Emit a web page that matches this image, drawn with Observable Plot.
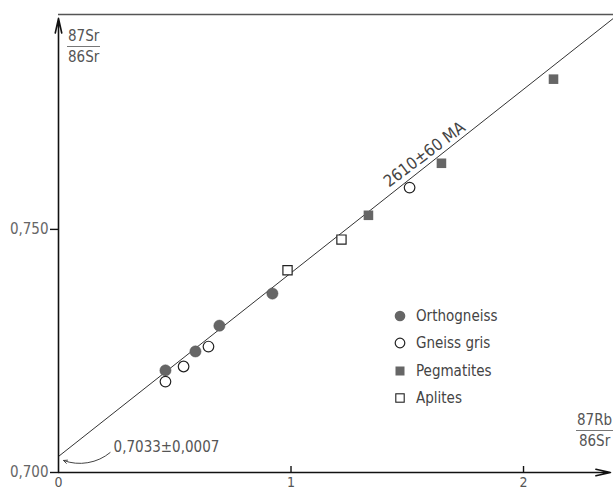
<!DOCTYPE html>
<html><head><meta charset="utf-8">
<script src="https://cdn.jsdelivr.net/npm/d3@7"></script>
<script src="https://cdn.jsdelivr.net/npm/@observablehq/plot@0.6"></script>
<style>
body{margin:0;background:#fff;}
#wrap{position:relative;width:613px;height:495px;overflow:hidden;font-family:"Liberation Sans Narrow","DejaVu Sans Condensed",sans-serif;color:#555;}
.frac{position:absolute;font-size:15px;line-height:15px;text-align:center;color:#555;}
.frac .num{display:block;border-bottom:1.2px solid #777;padding:0 1px 2px 1px;}
.frac .den{display:block;padding-top:3px;}
#legend{position:absolute;left:393px;top:302px;font-size:15px;color:#444;}
#legend .row{height:27.5px;display:flex;align-items:center;}
#legend svg{margin-right:9px;}
</style></head><body><div id="wrap"></div>
<script>
// Series (87Rb/86Sr, 87Sr/86Sr)
const categories = ["Orthogneiss", "Gneiss gris", "Pegmatites", "Aplites"];
const orthogneissX = [0.460, 0.589, 0.692, 0.920];
const orthogneissY = [0.7210, 0.7249, 0.7302, 0.7368];
const gneissGrisX = [0.460, 0.538, 0.645, 1.510];
const gneissGrisY = [0.7187, 0.7218, 0.7259, 0.7586];
const pegmatitesX = [1.333, 1.647, 2.129];
const pegmatitesY = [0.7529, 0.7636, 0.7809];
const aplitesX = [0.985, 1.217];
const aplitesY = [0.7416, 0.7479];

// Isochron
const intercept = 0.7033;
const ageMa = 2610;
const lambda = 1.42e-11;
const slope = Math.exp(lambda * ageMa * 1e6) - 1;

// Axes
const xDomain = [0, 2.387];
const yDomain = [0.700, 0.7942];
const xTickValues = [0, 1, 2];
const xTickLabels = ["0", "1", "2"];
const yTickValues = [0.700, 0.750];
const yTickLabels = ["0,700", "0,750"];
const xArrowEnd = 2.374;
const yArrowEnd = 0.7934;

// Annotations
const ageLabel = {x: 1.574, y: 0.7654, text: "2610\u00b160 MA"};
const interceptLabel = {x: 0.237, y: 0.70514, text: "0,7033\u00b10,0007"};
const interceptArrow = {x1: 0.222, y1: 0.7041, x2: 0.0215, y2: 0.70247};

const mk = (xs, ys, cat) => xs.map((x, i) => ({x, y: ys[i], cat}));
const ortho = mk(orthogneissX, orthogneissY, categories[0]);
const gris = mk(gneissGrisX, gneissGrisY, categories[1]);
const pegm = mk(pegmatitesX, pegmatitesY, categories[2]);
const apl = mk(aplitesX, aplitesY, categories[3]);
const lineData = [{x: 0, y: intercept}, {x: xArrowEnd + 0.02, y: intercept + slope * (xArrowEnd + 0.02)}];

const xFmt = d => xTickLabels[xTickValues.indexOf(d)];
const yFmt = d => yTickLabels[yTickValues.indexOf(d)];

const chart = Plot.plot({
  width: 613, height: 495,
  marginLeft: 58, marginRight: 0, marginTop: 14, marginBottom: 23,
  x: {domain: xDomain, axis: null},
  y: {domain: yDomain, axis: null},
  style: {fontFamily: '"Liberation Sans Narrow","DejaVu Sans Condensed",sans-serif', fontSize: "15px", color: "#555", background: "#fff", overflow: "visible"},
  marks: [
    Plot.ruleY([yDomain[1]], {stroke: "#555", strokeWidth: 1.6}),
    Plot.line(lineData, {x: "x", y: "y", stroke: "#333", strokeWidth: 1}),
    Plot.arrow([{x1: 0, y1: yDomain[0], x2: 0, y2: yArrowEnd}], {x1: "x1", y1: "y1", x2: "x2", y2: "y2", stroke: "#111", strokeWidth: 1.6, headAngle: 25, headLength: 14}),
    Plot.arrow([{x1: 0, y1: yDomain[0], x2: xArrowEnd, y2: yDomain[0]}], {x1: "x1", y1: "y1", x2: "x2", y2: "y2", stroke: "#111", strokeWidth: 1.6, headAngle: 25, headLength: 14}),
    Plot.axisY({ticks: yTickValues, tickFormat: yFmt, tickSize: 8, tickPadding: 2, stroke: "#111", strokeWidth: 1.4, fill: "#666", fontSize: 15}),
    Plot.axisX({ticks: xTickValues.slice(1), tickSize: -6, tickFormat: () => "", stroke: "#111", strokeWidth: 1.4}),
    Plot.axisX({ticks: xTickValues, tickFormat: xFmt, tickSize: 0, tickPadding: 5, fill: "#555", fontSize: 14}),
    Plot.dot(ortho, {x: "x", y: "y", r: 5.6, fill: "#666", stroke: "#555", strokeWidth: 0.5}),
    Plot.dot(gris, {x: "x", y: "y", r: 5.3, fill: "#fff", stroke: "#222", strokeWidth: 1.2}),
    Plot.dot(pegm, {x: "x", y: "y", symbol: "square", r: 5.4, fill: "#666"}),
    Plot.dot(apl, {x: "x", y: "y", symbol: "square", r: 5.2, fill: "#fff", stroke: "#222", strokeWidth: 1.2}),
    Plot.text([ageLabel], {x: "x", y: "y", text: "text", rotate: -37, fontSize: 16.5, fill: "#444"}),
    Plot.text([interceptLabel], {x: "x", y: "y", text: "text", textAnchor: "start", fontSize: 15, fill: "#555"}),
    Plot.arrow([interceptArrow], {x1: "x1", y1: "y1", x2: "x2", y2: "y2", bend: 30, stroke: "#444", strokeWidth: 1, headLength: 6, headAngle: 50})
  ]
});

const wrap = document.getElementById("wrap");
wrap.appendChild(chart);

function frac(num, den, left, top) {
  const d = document.createElement("div");
  d.className = "frac";
  d.style.left = left + "px"; d.style.top = top + "px";
  d.innerHTML = `<span class="num">${num}</span><span class="den">${den}</span>`;
  wrap.appendChild(d);
}
frac("87Sr", "86Sr", 67, 29);
frac("87Rb", "86Sr", 576, 413);

const symbols = {
  "Orthogneiss": '<circle cx="7" cy="7" r="5.3" fill="#666"/>',
  "Gneiss gris": '<circle cx="7" cy="7" r="4.8" fill="#fff" stroke="#222" stroke-width="1.2"/>',
  "Pegmatites": '<rect x="2.5" y="2.5" width="9" height="9" fill="#666"/>',
  "Aplites": '<rect x="2.8" y="2.8" width="8.4" height="8.4" fill="#fff" stroke="#222" stroke-width="1.1"/>'
};
const leg = document.createElement("div");
leg.id = "legend";
leg.innerHTML = categories.map(c => `<div class="row"><svg width="14" height="14">${symbols[c]}</svg><span>${c}</span></div>`).join("");
wrap.appendChild(leg);
</script></body></html>
